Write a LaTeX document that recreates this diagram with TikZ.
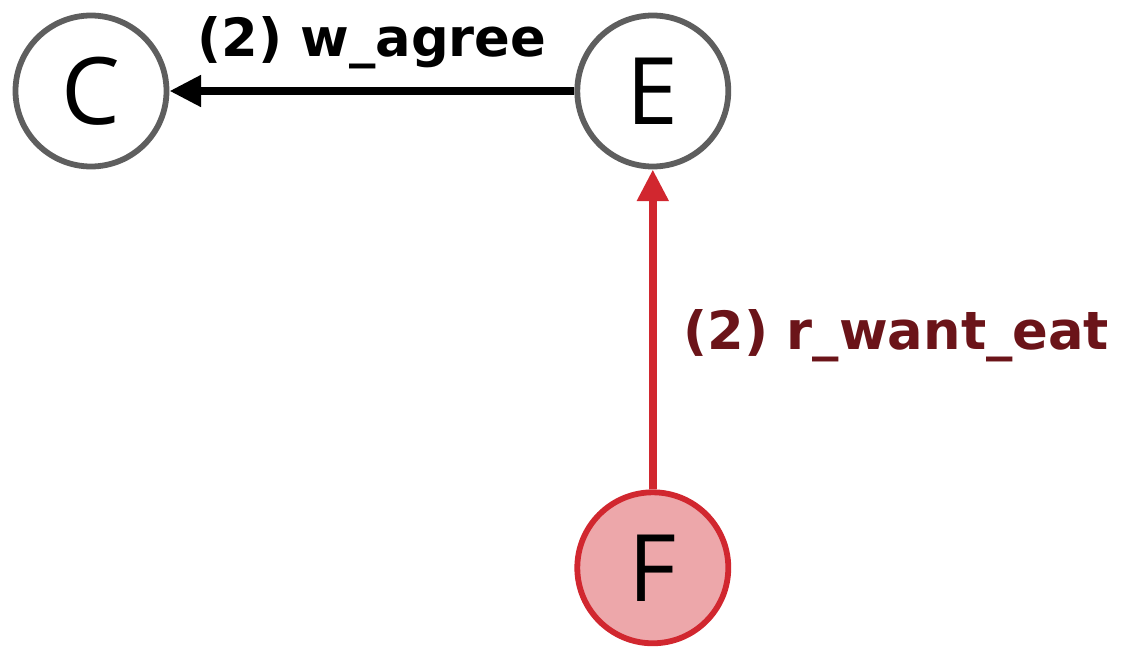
\documentclass[tikz,border=0pt]{standalone}
\usepackage{fontspec}
\setmainfont{Open Sans}
\newfontfamily\lblfont{DejaVu Sans}
\usetikzlibrary{arrows.meta, positioning}
\definecolor{nodeGray}{HTML}{5E5E5E}
\definecolor{bondRed}{HTML}{D1272F}
\definecolor{bondFill}{HTML}{EDA7AA}
\definecolor{bondText}{HTML}{6B1419}
\tikzset{
  arrowK/.style={-{Triangle[length=18pt, width=17pt]}, black, line width=4.6pt},
  arrowRd/.style={-{Triangle[length=18pt, width=17pt]}, bondRed, line width=4.6pt},
  charW/.style={circle, draw=nodeGray, fill=white, line width=3.3pt,
                minimum size=3.02cm, inner sep=0pt, font=\fontsize{53}{53}\selectfont},
  charR/.style={circle, draw=bondRed, fill=bondFill, line width=3.3pt,
                minimum size=3.02cm, inner sep=0pt, font=\fontsize{53}{53}\selectfont},
  edgeLbl/.style={font=\lblfont\bfseries\fontsize{30}{31}\selectfont, inner sep=3pt},
}
\begin{document}
\begin{tikzpicture}[node distance=8.1cm]
    \useasboundingbox (0,0) rectangle (22.48,-13.02);
    \node[charW] (c) at (1.82,-1.82) {C};
    \node[charW, right=of c] (e) {E};
    \node[charR, below=6.4cm of e] (f) {F};
    \draw[arrowK] (e) -- node[edgeLbl, midway, above=2.6mm] (lw) {(2) w\_agree} (c);
    \draw[arrowRd] (f) -- node[edgeLbl, text=bondText, midway, right=4.3mm, yshift=-1.2mm] (lr) {(2) r\_want\_eat} (e);
  \end{tikzpicture}
\end{document}
